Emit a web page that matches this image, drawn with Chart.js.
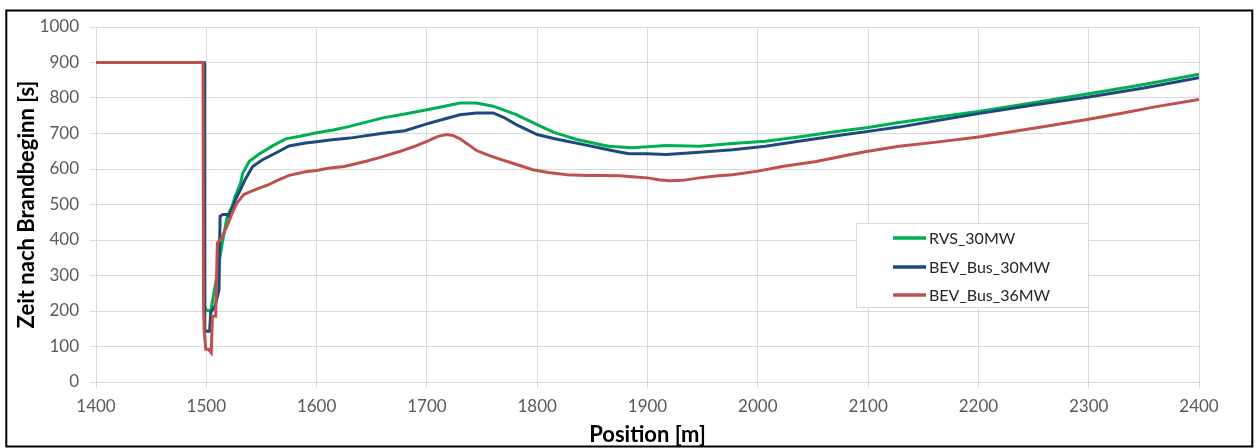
<!DOCTYPE html>
<html>
<head>
<meta charset="utf-8">
<script src="https://cdn.jsdelivr.net/npm/chart.js@4/dist/chart.umd.min.js"></script>
<style>
html,body{margin:0;padding:0;background:#fff;}
#wrap{position:relative;width:1257px;height:448px;}
</style>
</head>
<body>
<div id="wrap"><canvas id="c" width="1257" height="448"></canvas></div>
<script>
// ---- Data ----
const xTitle = 'Position [m]';
const yTitle = 'Zeit nach Brandbeginn [s]';
const seriesNames = ['RVS_30MW', 'BEV_Bus_30MW', 'BEV_Bus_36MW'];

const rvsPos = [1400,1497.5,1498.5,1500,1504,1508.5,1514.5,1519,1523.5,1526,1531,1533,1539,1548,1560,1572,1585,1600,1615,1630,1645,1660,1680,1700,1715,1730,1745,1760,1770,1781,1800,1815,1836,1857,1865,1886,1900,1917,1947,1977,2007,2037,2068,2100,2128,2160,2200,2250,2300,2350,2400];
const rvsTime = [900,900,215,202,200,279,392,467,495,522,560,588,622,642,665,685,692,702,710,720,732,744,755,767,776,786,786,777,766,753,725,703,683,669,664,660,663,666,664,672,678,690,704,717,731,745,762,787,812,838,867];

const bus30Pos = [1400,1498,1498.5,1500,1503,1504,1508,1511.5,1512.5,1515,1519,1520.5,1526.5,1531,1535,1542,1551,1563,1575,1590,1600,1612,1630,1660,1680,1700,1715,1730,1745,1760,1770,1781,1800,1815,1827,1840,1857,1871,1883,1900,1917,1947,1977,2007,2037,2068,2100,2128,2160,2200,2250,2300,2350,2400];
const bus30Time = [900,900,148,143,143,195,215,260,467,472,472,467,514,542,569,607,626,645,665,673,677,682,687,701,708,727,740,753,758,758,745,725,697,686,678,670,659,650,643,643,641,647,654,664,678,692,706,718,735,756,780,803,828,857];

const bus36Pos = [1400,1497,1497.5,1498,1499.5,1502,1504.5,1505.5,1508.5,1510,1513,1516,1520,1524,1528,1534,1540,1548,1556,1563,1575,1590,1600,1612,1625,1645,1660,1676,1690,1700,1710,1718,1724,1730,1737,1745,1755,1766,1780,1796,1810,1827,1845,1860,1875,1886,1900,1910,1920,1932,1947,1962,1977,2000,2022,2053,2083,2100,2128,2160,2200,2230,2260,2300,2330,2360,2400];
const bus36Time = [900,900,218,148,92,92,82,185,185,392,401,420,448,480,505,528,536,546,555,566,582,592,596,603,607,622,635,650,665,678,692,697,694,685,670,652,640,628,614,598,590,584,582,582,581,578,575,570,567,568,575,580,584,594,607,621,640,650,664,675,690,705,720,740,757,775,796];

const xTickLabels = [1400,1500,1600,1700,1800,1900,2000,2100,2200,2300,2400];
const yTickLabels = [0,100,200,300,400,500,600,700,800,900,1000];

// ---- Build ----
function pts(xs, ys){ return xs.map((x,i)=>({x:x, y:ys[i]})); }
const colors = ['#00b050', '#1f497d', '#c0504d'];

Chart.defaults.font.family = 'Lato, "Open Sans", sans-serif';

const borderPlugin = {
  id: 'outerBorder',
  beforeDraw(chart){
    const ctx = chart.ctx;
    ctx.save();
    ctx.fillStyle = '#fff';
    ctx.fillRect(0,0,chart.width,chart.height);
    ctx.restore();
  },
  afterDraw(chart){
    const ctx = chart.ctx;
    ctx.save();
    ctx.strokeStyle = '#000';
    ctx.lineWidth = 2;
    ctx.strokeRect(6.3, 10.5, 1246, 436);
    ctx.restore();
  }
};

const legendBox = {
  id: 'legendBox',
  afterDatasetsDraw(chart){
    const ctx = chart.ctx;
    ctx.save();
    const bx = 856.5, by = 223.5, bw = 232, bh = 84;
    ctx.fillStyle = '#fff';
    ctx.fillRect(bx, by, bw, bh);
    ctx.strokeStyle = '#d9d9d9';
    ctx.lineWidth = 1;
    ctx.strokeRect(bx, by, bw, bh);
    const rows = [238, 267, 295];
    ctx.font = '16px Lato, "Open Sans", sans-serif';
    ctx.textBaseline = 'middle';
    ctx.textAlign = 'left';
    seriesNames.forEach((name, i) => {
      ctx.strokeStyle = colors[i];
      ctx.lineWidth = 3.5;
      ctx.beginPath();
      ctx.moveTo(893, rows[i]);
      ctx.lineTo(926, rows[i]);
      ctx.stroke();
      ctx.fillStyle = '#262626';
      ctx.fillText(name, 929, rows[i] + 1);
    });
    ctx.restore();
  }
};

new Chart(document.getElementById('c'), {
  type: 'line',
  data: {
    datasets: [
      { label: seriesNames[0], data: pts(rvsPos, rvsTime), borderColor: colors[0], backgroundColor: colors[0], borderWidth: 3, pointRadius: 0, tension: 0, order: 3 },
      { label: seriesNames[1], data: pts(bus30Pos, bus30Time), borderColor: colors[1], backgroundColor: colors[1], borderWidth: 3, pointRadius: 0, tension: 0, order: 2 },
      { label: seriesNames[2], data: pts(bus36Pos, bus36Time), borderColor: colors[2], backgroundColor: colors[2], borderWidth: 3, pointRadius: 0, tension: 0, order: 1 }
    ]
  },
  options: {
    responsive: false,
    animation: false,
    devicePixelRatio: 1,
    layout: { padding: { left: 10, right: 58, top: 27, bottom: 0 } },
    plugins: { legend: { display: false }, tooltip: { enabled: false } },
    scales: {
      x: {
        type: 'linear',
        min: xTickLabels[0], max: xTickLabels[xTickLabels.length-1],
        afterBuildTicks(scale){ scale.ticks = xTickLabels.map(v=>({value:v})); },
        afterFit(scale){ scale.height = 66; },
        ticks: { color: '#595959', font: { size: 17 }, padding: 8, maxRotation: 0, autoSkip: false, callback: v => String(v) },
        grid: { color: '#d9d9d9', lineWidth: 1, tickLength: 6, drawTicks: true },
        border: { color: '#d9d9d9' },
        title: { display: true, text: xTitle, color: '#000', font: { size: 22, weight: 'bold' }, padding: { top: 0, bottom: 0 } }
      },
      y: {
        min: yTickLabels[0], max: yTickLabels[yTickLabels.length-1],
        afterBuildTicks(scale){ scale.ticks = yTickLabels.map(v=>({value:v})); },
        afterFit(scale){ scale.width = 86; },
        ticks: { color: '#595959', font: { size: 17 }, padding: 11, callback: v => String(v) },
        grid: { color: '#d9d9d9', lineWidth: 1, tickLength: 6, drawTicks: true },
        border: { color: '#d9d9d9' },
        title: { display: true, text: yTitle, color: '#000', font: { size: 22, weight: 'bold' }, padding: { top: 4, bottom: 0 } }
      }
    }
  },
  plugins: [borderPlugin, legendBox]
});
</script>
</body>
</html>
